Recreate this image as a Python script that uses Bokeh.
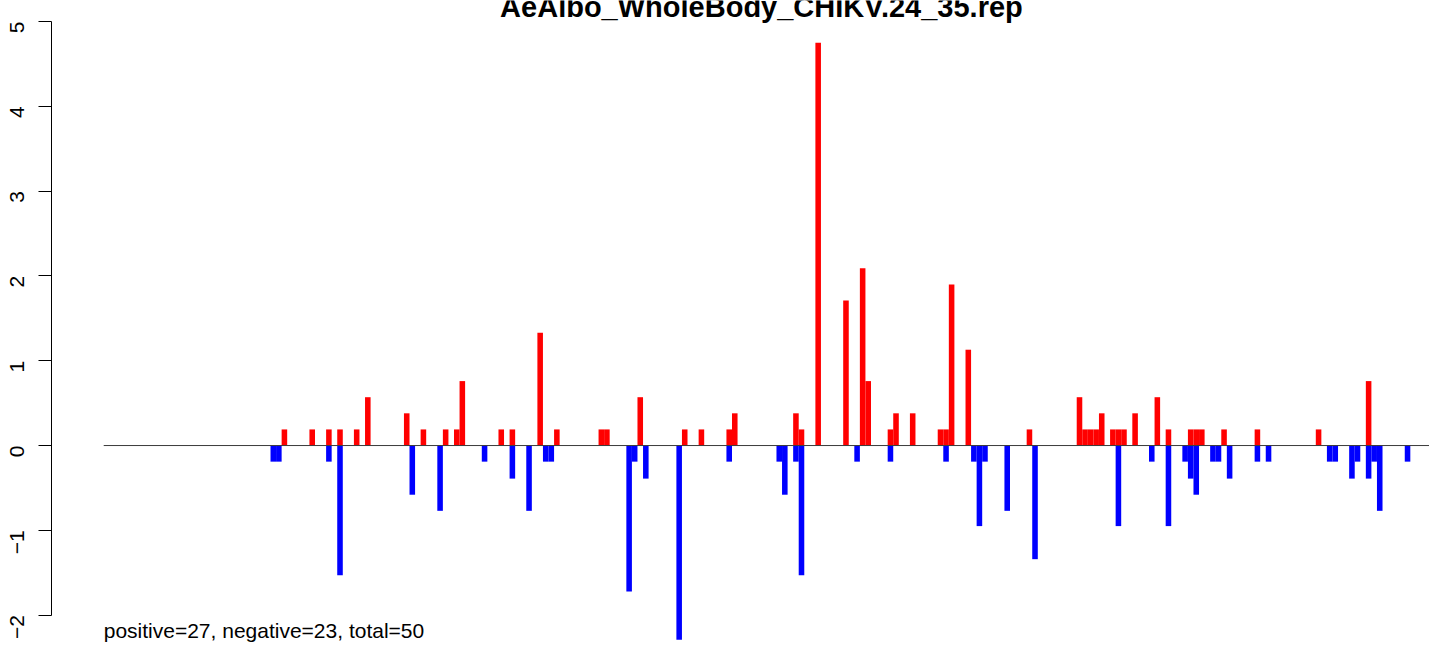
import math
import numpy as np
from bokeh.plotting import figure
from bokeh.models import Range1d, Label, FixedTicker, ColumnDataSource
from bokeh.embed import file_html
from bokeh.resources import INLINE

title_text = "AeAlbo_WholeBody_CHIKV.24_35.rep"
summary_text = "positive=27, negative=23, total=50"
y_ticks = [-2, -1, 0, 1, 2, 3, 4, 5]

# positive (red) bars: position and value
pos_x = [32, 37, 40, 42, 45, 47, 54, 57, 61, 63,
         64, 71, 73, 78, 81, 89, 90, 96, 104, 107,
         112, 113, 124, 125, 128, 133, 136, 137, 141, 142,
         145, 150, 151, 152, 155, 166, 175, 176, 177, 178,
         179, 181, 182, 183, 185, 189, 191, 195, 196, 197,
         201, 207, 218, 227]
pos_val = [0.19, 0.19, 0.19, 0.19, 0.19, 0.57, 0.38, 0.19, 0.19, 0.19,
           0.76, 0.19, 0.19, 1.33, 0.19, 0.19, 0.19, 0.57, 0.19, 0.19,
           0.19, 0.38, 0.38, 0.19, 4.75, 1.71, 2.09, 0.76, 0.19, 0.38,
           0.38, 0.19, 0.19, 1.90, 1.13, 0.19, 0.57, 0.19, 0.19, 0.19,
           0.38, 0.19, 0.19, 0.19, 0.38, 0.57, 0.19, 0.19, 0.19, 0.19,
           0.19, 0.19, 0.19, 0.76]

# negative (blue) bars: position and value
neg_x = [30, 31, 40, 42, 55, 60, 68, 73, 76, 79,
         80, 94, 95, 97, 103, 112, 121, 122, 124, 125,
         135, 141, 151, 156, 157, 158, 162, 167, 182, 188,
         191, 194, 195, 196, 199, 200, 202, 207, 209, 220,
         221, 224, 225, 227, 228, 229, 234]
neg_val = [-0.19, -0.19, -0.19, -1.53, -0.58, -0.77, -0.19, -0.39, -0.77, -0.19,
           -0.19, -1.72, -0.19, -0.39, -2.29, -0.19, -0.19, -0.58, -0.19, -1.53,
           -0.19, -0.19, -0.19, -0.19, -0.95, -0.19, -0.77, -1.34, -0.95, -0.19,
           -0.95, -0.19, -0.39, -0.58, -0.19, -0.19, -0.39, -0.19, -0.19, -0.19,
           -0.19, -0.39, -0.19, -0.39, -0.19, -0.77, -0.19]

x_start, x_end = -9.39, 238.45
y_start, y_end = -2.358, 5.248
FONT = "Liberation Sans"

p = figure(width=1429, height=645,
           x_range=Range1d(x_start, x_end), y_range=Range1d(y_start, y_end),
           output_backend="svg", toolbar_location=None,
           min_border_left=51, min_border_right=0,
           min_border_top=0, min_border_bottom=0)
p.xaxis.visible = False
p.grid.visible = False
p.outline_line_color = None
p.background_fill_color = "white"
p.border_fill_color = "white"

pos_src = ColumnDataSource(dict(left=pos_x, right=[x + 1 for x in pos_x],
                                top=pos_val, bottom=[0] * len(pos_x)))
neg_src = ColumnDataSource(dict(left=neg_x, right=[x + 1 for x in neg_x],
                                top=[0] * len(neg_x), bottom=neg_val))
p.quad(left="left", right="right", top="top", bottom="bottom", source=pos_src,
       fill_color="#FF0000", line_color=None)
p.quad(left="left", right="right", top="top", bottom="bottom", source=neg_src,
       fill_color="#0000FF", line_color=None)

# zero line
p.segment(x0=[0], y0=[0], x1=[x_end], y1=[0], line_color="#3a3a3a", line_width=1)

ya = p.yaxis[0]
ya.ticker = FixedTicker(ticks=y_ticks)
ya.bounds = (min(y_ticks), max(y_ticks))
ya.major_label_overrides = {t: str(t).replace("-", "\u2212") for t in y_ticks}
ya.major_label_orientation = math.pi / 2
ya.major_label_text_font = FONT
ya.major_label_text_font_size = "21px"
ya.major_label_text_color = "black"
ya.major_label_standoff = 21
ya.major_tick_out = 13
ya.major_tick_in = 0
ya.minor_tick_out = 0
ya.minor_tick_in = 0
ya.axis_line_color = "black"
ya.major_tick_line_color = "black"

p.add_layout(Label(x=118.3, y=5.177, text=title_text, text_font=FONT,
                   text_font_style="bold", text_font_size="29px",
                   text_align="center", text_baseline="alphabetic",
                   text_color="black"))
p.add_layout(Label(x=0, y=-2.181, text=summary_text, text_font=FONT,
                   text_font_size="21px", text_align="left",
                   text_baseline="alphabetic", text_color="black"))

open("out.html", "w").write(file_html(p, INLINE))
